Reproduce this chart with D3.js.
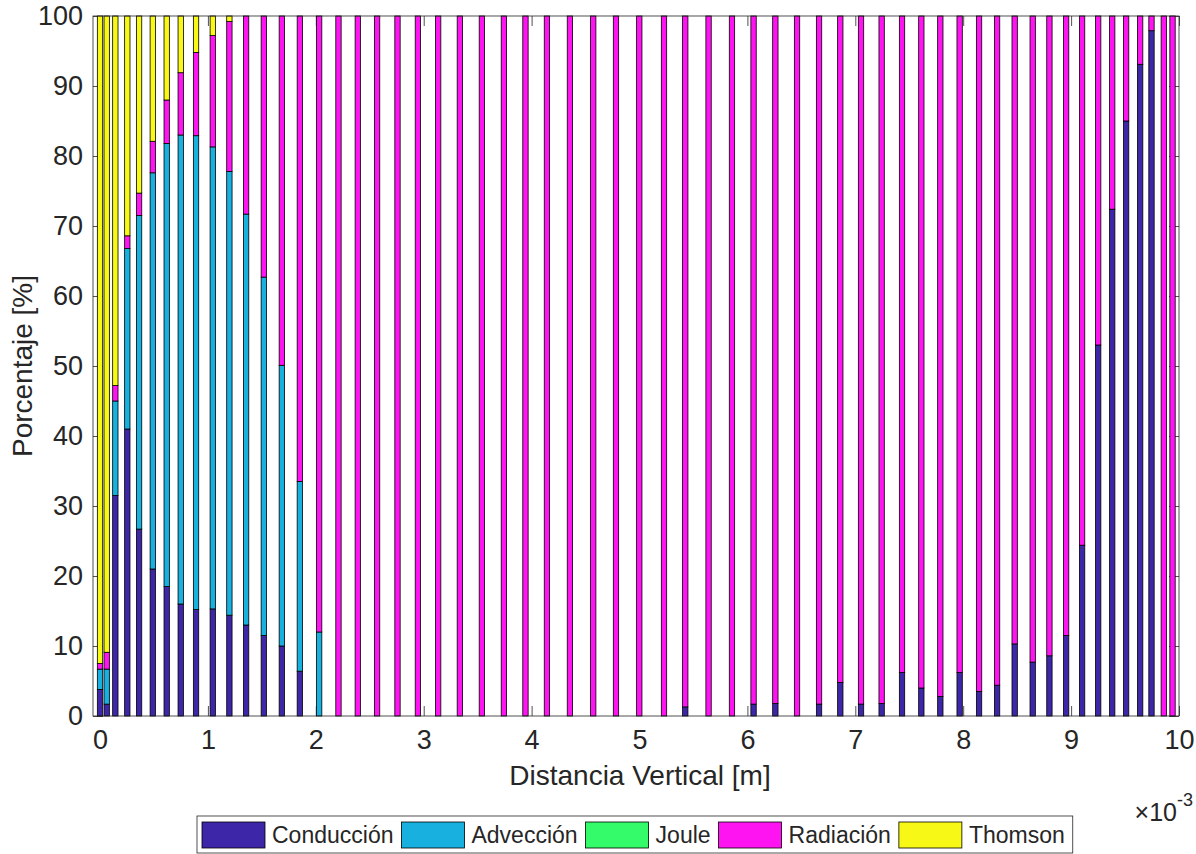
<!DOCTYPE html>
<html>
<head>
<meta charset="utf-8">
<script src="https://cdn.jsdelivr.net/npm/d3@7"></script>
<style>
  body { margin: 0; background: #fff; }
  svg text { font-family: "Liberation Sans", Arial, Helvetica, sans-serif; fill: #262626; }
</style>
</head>
<body>
<svg id="chart" width="1196" height="854"></svg>
<script>
// Vertical distance of each sample, in units of 1e-3 m
const distanciaMM = [
  0.000, 0.062, 0.142, 0.253, 0.362, 0.489, 0.618, 0.748, 0.890, 1.045,
  1.199, 1.354, 1.518, 1.685, 1.852, 2.031, 2.210, 2.389, 2.568, 2.757,
  2.946, 3.134, 3.335, 3.539, 3.743, 3.943, 4.142, 4.355, 4.571, 4.782,
  4.998, 5.227, 5.424, 5.640, 5.857, 6.057, 6.259, 6.460, 6.664, 6.861,
  7.053, 7.244, 7.433, 7.612, 7.788, 7.967, 8.147, 8.314, 8.477, 8.644,
  8.799, 8.954, 9.102, 9.251, 9.381, 9.510, 9.640, 9.745, 9.859, 9.940
];

// Share of each heat mechanism [%]
const conduccion = [
  3.8, 1.7, 31.5, 41.0, 26.7, 21.0, 18.5, 16.0, 15.2, 15.3,
  14.4, 13.0, 11.5, 10.0, 6.4, 0, 0, 0, 0, 0,
  0, 0, 0, 0, 0, 0, 0, 0, 0, 0,
  0, 0, 1.3, 0, 0, 1.7, 1.8, 0, 1.7, 4.8,
  1.7, 1.8, 6.2, 4.0, 2.8, 6.2, 3.5, 4.4, 10.3, 7.7,
  8.6, 11.5, 24.4, 53.0, 72.4, 85.0, 93.1, 97.9, 0, 0
];
const adveccion = [
  2.9, 5.0, 13.5, 25.8, 44.8, 56.6, 63.3, 67.0, 67.7, 66.0,
  63.4, 58.7, 51.2, 40.1, 27.1, 12.0, 0, 0, 0, 0,
  0, 0, 0, 0, 0, 0, 0, 0, 0, 0,
  0, 0, 0, 0, 0, 0, 0, 0, 0, 0,
  0, 0, 0, 0, 0, 0, 0, 0, 0, 0,
  0, 0, 0, 0, 0, 0, 0, 0, 0, 0
];
const joule = [
  0, 0, 0, 0, 0, 0, 0, 0, 0, 0,
  0, 0, 0, 0, 0, 0, 0, 0, 0, 0,
  0, 0, 0, 0, 0, 0, 0, 0, 0, 0,
  0, 0, 0, 0, 0, 0, 0, 0, 0, 0,
  0, 0, 0, 0, 0, 0, 0, 0, 0, 0,
  0, 0, 0, 0, 0, 0, 0, 0, 0, 0
];
const radiacion = [
  0.8, 2.4, 2.2, 1.8, 3.2, 4.5, 6.2, 8.9, 11.9, 15.9,
  21.4, 28.3, 37.3, 49.9, 66.5, 88.0, 100, 100, 100, 100,
  100, 100, 100, 100, 100, 100, 100, 100, 100, 100,
  100, 100, 98.7, 100, 100, 98.3, 98.2, 100, 98.3, 95.2,
  98.3, 98.2, 93.8, 96.0, 97.2, 93.8, 96.5, 95.6, 89.7, 92.3,
  91.4, 88.5, 75.6, 47.0, 27.6, 15.0, 6.9, 2.1, 100, 100
];
const thomson = [
  92.5, 90.9, 52.8, 31.4, 25.3, 17.9, 12.0, 8.1, 5.2, 2.8,
  0.8, 0, 0, 0, 0, 0, 0, 0, 0, 0,
  0, 0, 0, 0, 0, 0, 0, 0, 0, 0,
  0, 0, 0, 0, 0, 0, 0, 0, 0, 0,
  0, 0, 0, 0, 0, 0, 0, 0, 0, 0,
  0, 0, 0, 0, 0, 0, 0, 0, 0, 0
];

const seriesNames = ["Conducción", "Advección", "Joule", "Radiación", "Thomson"];
const seriesColors = ["#3E26A8", "#17B0DF", "#33FB69", "#FD14F0", "#F8F816"];
const seriesValues = [conduccion, adveccion, joule, radiacion, thomson];

const xTicks = [0, 1, 2, 3, 4, 5, 6, 7, 8, 9, 10];
const yTicks = [0, 10, 20, 30, 40, 50, 60, 70, 80, 90, 100];

// ---- layout ----
const svg = d3.select("#chart");
const plot = { left: 93, right: 1179, top: 16, bottom: 716 };
const axisColor = "#262626";
const tickFont = 27;

const x = d3.scaleLinear().domain([-0.065, 10]).range([plot.left, plot.right]);
const y = d3.scaleLinear().domain([0, 100]).range([plot.bottom, plot.top]);

// rows for the stack layout
const rows = distanciaMM.map((d, i) => {
  const r = { x: d };
  seriesNames.forEach((k, j) => { r[k] = seriesValues[j][i]; });
  return r;
});
const stacked = d3.stack().keys(seriesNames)(rows);

// bar width: 80% of the closest spacing between samples
const minGap = d3.min(d3.pairs(distanciaMM), ([a, b]) => b - a);
const barW = 0.8 * (x(minGap) - x(0));

// ---- axes (ticks point inward, drawn beneath the bars) ----
function styleAxis(g) {
  g.select(".domain").remove();
  g.selectAll(".tick line").attr("stroke", axisColor).attr("stroke-width", 0.8);
  g.selectAll(".tick text")
    .attr("fill", axisColor)
    .style("font-size", tickFont + "px")
    .style("font-family", '"Liberation Sans", Arial, sans-serif');
}

svg.append("g")
  .attr("transform", `translate(0,${plot.bottom})`)
  .call(d3.axisBottom(x).tickValues(xTicks).tickSize(-10).tickPadding(14).tickFormat(d3.format("d")))
  .call(styleAxis);

svg.append("g")
  .attr("transform", `translate(0,${plot.top})`)
  .call(d3.axisTop(x).tickValues(xTicks).tickSize(-10).tickFormat(""))
  .call(styleAxis);

svg.append("g")
  .attr("transform", `translate(${plot.left},0)`)
  .call(d3.axisLeft(y).tickValues(yTicks).tickSize(-10).tickPadding(10).tickFormat(d3.format("d")))
  .call(styleAxis);

svg.append("g")
  .attr("transform", `translate(${plot.right},0)`)
  .call(d3.axisRight(y).tickValues(yTicks).tickSize(-10).tickFormat(""))
  .call(styleAxis);

// ---- stacked bars ----
const layers = svg.append("g").attr("class", "bars")
  .selectAll("g")
  .data(stacked)
  .join("g")
  .attr("fill", (d, i) => seriesColors[i]);

layers.selectAll("rect")
  .data(d => d)
  .join("rect")
  .attr("x", d => x(d.data.x) - barW / 2)
  .attr("width", barW)
  .attr("y", d => y(d[1]))
  .attr("height", d => y(d[0]) - y(d[1]))
  .attr("stroke", "#000")
  .attr("stroke-width", 0.8);

// ---- axes box ----
svg.append("rect")
  .attr("x", plot.left).attr("y", plot.top)
  .attr("width", plot.right - plot.left).attr("height", plot.bottom - plot.top)
  .attr("fill", "none")
  .attr("stroke", axisColor)
  .attr("stroke-width", 0.8);

// ---- axis labels ----
svg.append("text")
  .attr("x", (plot.left + plot.right) / 2 + 4)
  .attr("y", 785)
  .attr("text-anchor", "middle")
  .style("font-size", "28px")
  .text("Distancia Vertical [m]");

svg.append("text")
  .attr("transform", `translate(32,${(plot.top + plot.bottom) / 2}) rotate(-90)`)
  .attr("text-anchor", "middle")
  .style("font-size", "28px")
  .text("Porcentaje [%]");

// exponent marker for the x axis
const expo = svg.append("text")
  .attr("x", 1193)
  .attr("y", 821)
  .attr("text-anchor", "end")
  .style("font-size", "25px");
expo.append("tspan").text("×10");
expo.append("tspan").attr("dy", -15).style("font-size", "18px").text("-3");

// ---- legend ----
const legend = svg.append("g").attr("class", "legend");
const legBox = legend.append("rect")
  .attr("fill", "#fff")
  .attr("stroke", axisColor)
  .attr("stroke-width", 0.8);

const legY = 822, swH = 26, swW = 63, legFont = 23;
let cx = 202;
seriesNames.forEach((name, i) => {
  legend.append("rect")
    .attr("x", cx).attr("y", legY)
    .attr("width", swW).attr("height", swH)
    .attr("fill", seriesColors[i])
    .attr("stroke", "#000")
    .attr("stroke-width", 0.8);
  const t = legend.append("text")
    .attr("x", cx + swW + 7)
    .attr("y", legY + swH / 2)
    .attr("dy", "0.35em")
    .style("font-size", legFont + "px")
    .text(name);
  cx = cx + swW + 7 + t.node().getComputedTextLength() + 8;
});
legBox.attr("x", 197).attr("y", 816).attr("width", cx - 197).attr("height", 37);
</script>
</body>
</html>
